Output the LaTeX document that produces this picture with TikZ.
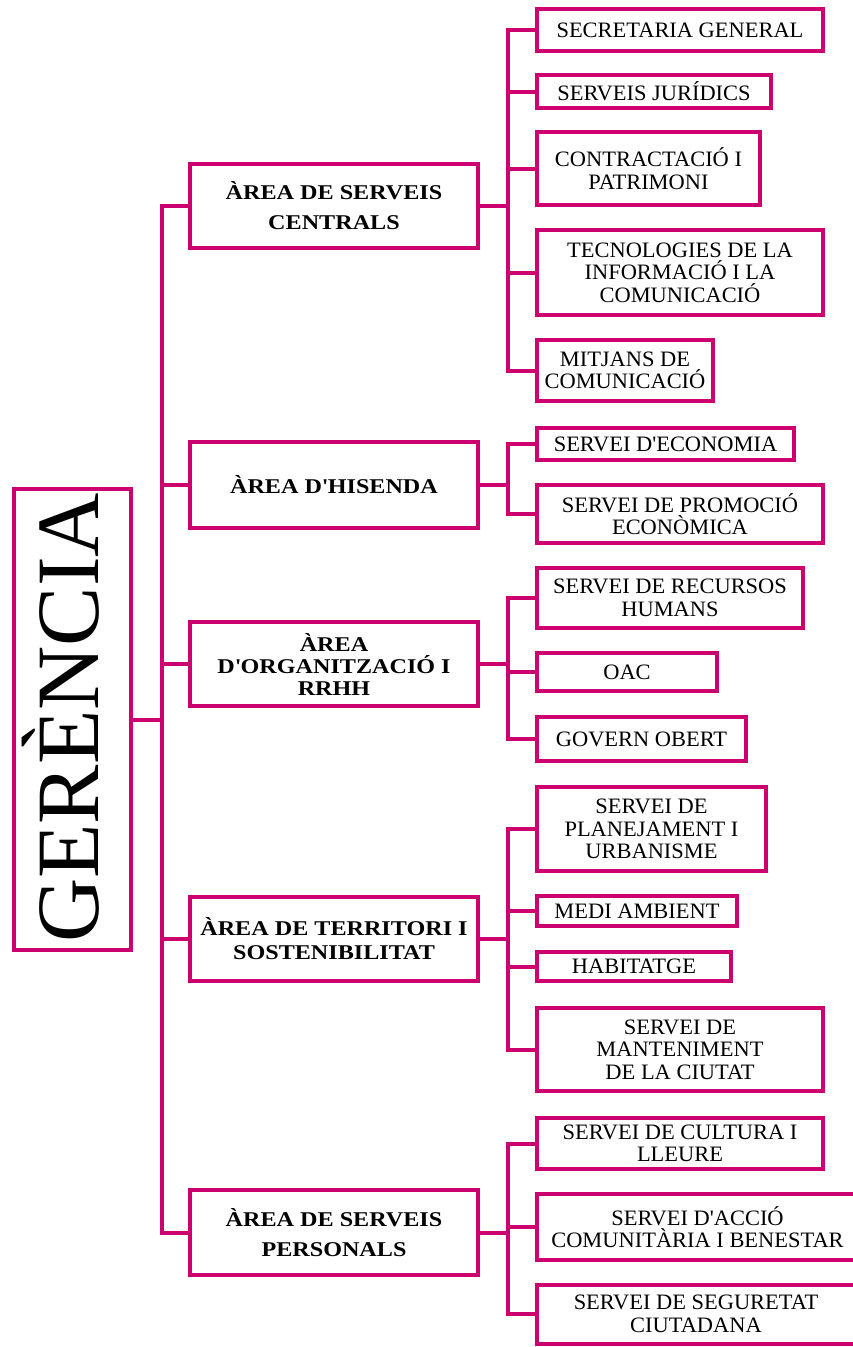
\documentclass[tikz,border=0pt]{standalone}
\usepackage{fontspec}
\setmainfont{Liberation Serif}
\newfontfamily\subfont{Liberation Serif}[FakeStretch=1.02]
\newfontfamily\areafont{Liberation Serif}[FakeStretch=1.15]
\definecolor{orgpink}{RGB}{204,0,110}
\newcommand\apos{\textquotesingle}
\begin{document}
\begin{tikzpicture}[x=1pt,y=-1pt,
  box/.style={draw=orgpink, line width=4pt, fill=white, align=center, inner sep=0pt, text=black},
  sub/.style={box, font=\subfont\fontsize{22}{22.5}\selectfont},
  area/.style={box, font=\areafont\bfseries\fontsize{21}{22}\selectfont, minimum width=288},
  link/.style={draw=orgpink, line width=4pt}]
\useasboundingbox (0,0) rectangle (853,1347);

% top of the chart
\node[box, minimum width=117, minimum height=461] (g) at (72.5,719.5) {};
\node[rotate=90, anchor=base, inner sep=0pt, font=\fontsize{89}{89}\selectfont] (gt) at (98,718) {GERÈNCIA};

% areas
\node[area, minimum height=84] (a1) at (334,206)   {ÀREA DE SERVEIS\\[8pt]CENTRALS};
\node[area, minimum height=86] (a2) at (334,485)   {ÀREA D\apos HISENDA};
\node[area, minimum height=84] (a3) at (334,664)   {ÀREA\\D\apos ORGANITZACIÓ I\\RRHH};
\node[area, minimum height=84] (a4) at (334,939)   {ÀREA DE TERRITORI I\\[2pt]SOSTENIBILITAT};
\node[area, minimum height=85] (a5) at (334,1232.5){ÀREA DE SERVEIS\\[8pt]PERSONALS};

% services
\node[sub, minimum width=286, minimum height=42] (s11) at (680,30)     {SECRETARIA GENERAL};
\node[sub, minimum width=234, minimum height=33] (s12) at (654,91.5)   {SERVEIS JURÍDICS};
\node[sub, minimum width=223, minimum height=73] (s13) at (648.5,168.5){CONTRACTACIÓ I\\PATRIMONI};
\node[sub, minimum width=286, minimum height=85] (s14) at (680,272.5)  {TECNOLOGIES DE LA\\INFORMACIÓ I LA\\COMUNICACIÓ};
\node[sub, minimum width=176, minimum height=61] (s15) at (625,370.5)  {MITJANS DE\\COMUNICACIÓ};

\node[sub, minimum width=257, minimum height=32] (s21) at (665.5,444)  {SERVEI D\apos ECONOMIA};
\node[sub, minimum width=286, minimum height=58] (s22) at (680,514)    {SERVEI DE PROMOCIÓ\\ECONÒMICA};

\node[sub, minimum width=266, minimum height=60] (s31) at (670,598)    {SERVEI DE RECURSOS\\HUMANS};
\node[sub, minimum width=180, minimum height=38] (s32) at (627,672)    {OAC};
\node[sub, minimum width=209, minimum height=44] (s33) at (641.5,739)  {GOVERN OBERT};

\node[sub, minimum width=229, minimum height=84] (s41) at (651.5,829)  {SERVEI DE\\PLANEJAMENT I\\URBANISME};
\node[sub, minimum width=200, minimum height=30] (s42) at (637,911)    {MEDI AMBIENT};
\node[sub, minimum width=194, minimum height=29] (s43) at (634,966.5)  {HABITATGE};
\node[sub, minimum width=286, minimum height=83] (s44) at (680,1049.5) {SERVEI DE\\MANTENIMENT\\DE LA CIUTAT};

\node[sub, minimum width=286, minimum height=51] (s51) at (680,1143.5) {SERVEI DE CULTURA I\\LLEURE};
\node[sub, minimum width=321, minimum height=66] (s52) at (697.5,1227) {SERVEI D\apos ACCIÓ\\COMUNITÀRIA I BENESTAR};
\node[sub, minimum width=319, minimum height=59] (s53) at (696,1314)   {SERVEI DE SEGURETAT\\CIUTADANA};

% trunk lines
\coordinate (t) at (162,0);
\coordinate (u) at (508,0);

\draw[link] (g.east) -- (g.east -| t);
\draw[link] (a1.west) -- (a1.west -| t) -- (a5.west -| t) -- (a5.west);
\foreach \a in {a2,a3,a4} \draw[link] (\a.west) -- (\a.west -| t);

\draw[link] (a1.east) -- (a1.east -| u);
\draw[link] (s11.west) -- (s11.west -| u) -- (s15.west -| u) -- (s15.west);
\foreach \s in {s12,s13,s14} \draw[link] (\s.west) -- (\s.west -| u);

\draw[link] (a2.east) -- (a2.east -| u);
\draw[link] (s21.west) -- (s21.west -| u) -- (s22.west -| u) -- (s22.west);

\draw[link] (a3.east) -- (a3.east -| u);
\draw[link] (s31.west) -- (s31.west -| u) -- (s33.west -| u) -- (s33.west);
\draw[link] (s32.west) -- (s32.west -| u);

\draw[link] (a4.east) -- (a4.east -| u);
\draw[link] (s41.west) -- (s41.west -| u) -- (s44.west -| u) -- (s44.west);
\foreach \s in {s42,s43} \draw[link] (\s.west) -- (\s.west -| u);

\draw[link] (a5.east) -- (a5.east -| u);
\draw[link] (s51.west) -- (s51.west -| u) -- (s53.west -| u) -- (s53.west);
\draw[link] (s52.west) -- (s52.west -| u);
\end{tikzpicture}
\end{document}
